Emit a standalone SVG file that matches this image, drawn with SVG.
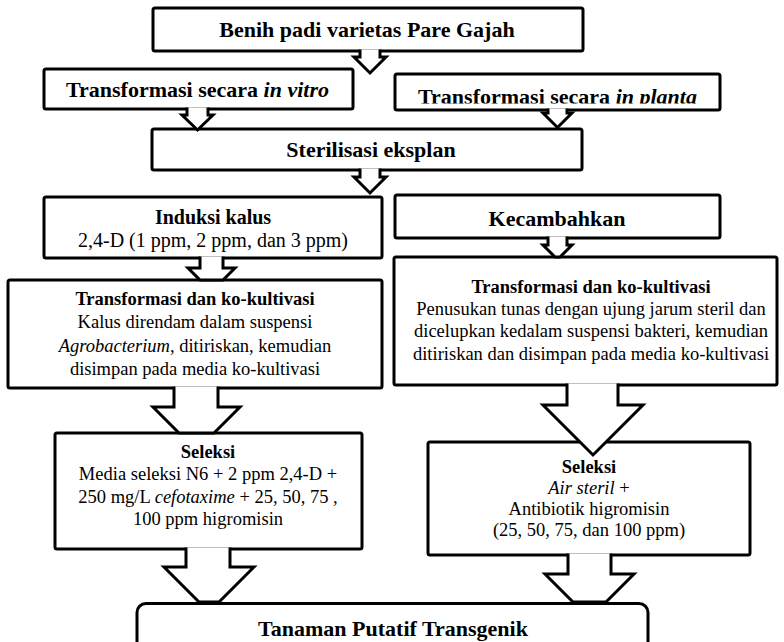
<svg xmlns="http://www.w3.org/2000/svg" width="784" height="642" viewBox="0 0 784 642">
  <style>
    .box { fill: #fff; stroke: #000; stroke-width: 3; stroke-linejoin: round; }
    .arrow { fill: #fff; stroke: #000; stroke-width: 3; stroke-linejoin: miter; }
    text { font-family: "Liberation Serif", "Times New Roman", serif; fill: #000; text-anchor: middle; }
    .h22 { font-size: 22px; font-weight: bold; }
    .h20 { font-size: 20px; font-weight: bold; }
    .t20 { font-size: 20px; }
    .hb { font-size: 18.5px; font-weight: bold; }
    .t { font-size: 18.5px; }
    .i { font-style: italic; }
  </style>
  <defs>
    <clipPath id="plantaClip">
      <rect x="395" y="74" width="325" height="29.5"/>
    </clipPath>
  </defs>

  <!-- nodes -->
  <g id="benih">
    <rect class="box" x="153" y="8" width="430" height="43" rx="2"/>
    <text class="h22" x="367" y="37">Benih padi varietas Pare Gajah</text>
  </g>

  <g id="in-vitro">
    <rect class="box" x="44" y="69" width="309" height="40" rx="2"/>
    <text class="h22" x="197.5" y="97">Transformasi secara <tspan class="i">in vitro</tspan></text>
  </g>

  <g id="in-planta">
    <rect class="box" x="395" y="74" width="325" height="36" rx="2"/>
    <text class="h22" x="557.5" y="104" clip-path="url(#plantaClip)">Transformasi secara <tspan class="i">in planta</tspan></text>
  </g>

  <g id="sterilisasi">
    <rect class="box" x="152" y="129" width="430" height="41" rx="2"/>
    <text class="h22" x="371" y="157">Sterilisasi eksplan</text>
  </g>

  <g id="induksi-kalus">
    <rect class="box" x="44" y="197" width="338" height="61" rx="2"/>
    <text class="h20" x="213" y="224">Induksi kalus</text>
    <text class="t20" x="213" y="247">2,4-D (1 ppm, 2 ppm, dan 3 ppm)</text>
  </g>

  <g id="kecambahkan">
    <rect class="box" x="395" y="195" width="325" height="43" rx="2"/>
    <text class="h22" x="557" y="226">Kecambahkan</text>
  </g>

  <g id="kokultivasi-vitro">
    <rect class="box" x="8" y="280" width="374" height="108" rx="2"/>
    <text class="hb" x="195" y="305">Transformasi dan ko-kultivasi</text>
    <text class="t" x="195" y="328">Kalus direndam dalam suspensi</text>
    <text class="t" x="195" y="352"><tspan class="i">Agrobacterium</tspan>, ditiriskan, kemudian</text>
    <text class="t" x="195" y="375">disimpan pada media ko-kultivasi</text>
  </g>

  <g id="kokultivasi-planta">
    <rect class="box" x="394" y="257" width="383" height="128" rx="2"/>
    <text class="hb" x="591" y="293">Transformasi dan ko-kultivasi</text>
    <text class="t" x="591" y="315">Penusukan tunas dengan ujung jarum steril dan</text>
    <text class="t" x="591" y="337">dicelupkan kedalam suspensi bakteri, kemudian</text>
    <text class="t" x="591" y="360">ditiriskan dan disimpan pada media ko-kultivasi</text>
  </g>

  <g id="seleksi-vitro">
    <rect class="box" x="55" y="433" width="307" height="116" rx="2"/>
    <text class="hb" x="208" y="458">Seleksi</text>
    <text class="t" x="208" y="480">Media seleksi N6 + 2 ppm 2,4-D +</text>
    <text class="t" x="208" y="503">250 mg/L <tspan class="i">cefotaxime</tspan> + 25, 50, 75 ,</text>
    <text class="t" x="208" y="525">100 ppm higromisin</text>
  </g>

  <g id="seleksi-planta">
    <rect class="box" x="428" y="442" width="322" height="113" rx="2"/>
    <text class="hb" x="589" y="473">Seleksi</text>
    <text class="t" x="589" y="494"><tspan class="i">Air steril</tspan> +</text>
    <text class="t" x="589" y="515">Antibiotik higromisin</text>
    <text class="t" x="589" y="536">(25, 50, 75, dan 100 ppm)</text>
  </g>

  <g id="tanaman-transgenik">
    <rect class="box" x="137" y="603.5" width="511" height="70" rx="9"/>
    <text class="h22" x="393" y="636">Tanaman Putatif Transgenik</text>
  </g>

  <!-- block-arrow connectors -->
  <g id="connectors">
    <path class="arrow" d="M360,49.5 V57 H354 L370,73 L386,57 H380 V49.5"/>
    <path class="arrow" d="M187,107.5 V115 H182 L197.5,130 L213,115 H208 V107.5"/>
    <path class="arrow" d="M548,108.5 V113 H543 L557.5,127.5 L572,113 H567 V108.5"/>
    <path class="arrow" d="M360,168.5 V177 H354 L370,193 L386,177 H380 V168.5"/>
    <path class="arrow" d="M200,256.5 V268 H188 L200,280 H223 L235,268 H223 V256.5"/>
    <path class="arrow" d="M548,236.5 V245 H543 L555,257 H560 L572,245 H567 V236.5"/>
    <path class="arrow" d="M174,386.5 V407 H153 L179,433 H214 L240,407 H218 V386.5"/>
    <path class="arrow" d="M567,383.5 V405 H543 L593,455 L643,405 H618 V383.5"/>
    <path class="arrow" d="M186,547.5 V567 H164 L199,602 H219 L254,567 H230 V547.5"/>
    <path class="arrow" d="M568,553.5 V574 H545 L573,602 H606 L634,574 H611 V553.5"/>
  </g>
</svg>
